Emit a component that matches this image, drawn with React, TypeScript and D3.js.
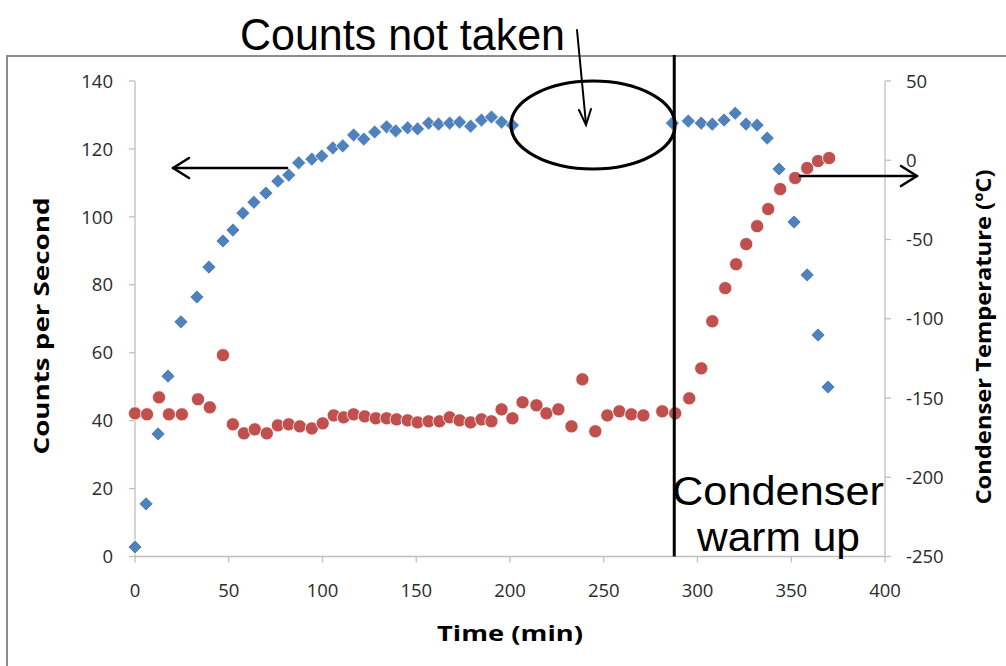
import React from "react";
import * as d3 from "d3";

// ---- data ----
const countTime = [0, 5.9, 12.3, 17.6, 24.5, 33.0, 39.4, 46.9, 52.2, 57.5, 63.4, 69.8, 76.2, 82.0, 87.3, 94.3, 99.6, 105.5, 110.8, 116.6, 122.0, 127.8, 134.2, 139.0, 145.4, 150.7, 156.6, 161.9, 167.8, 173.1, 179.0, 184.8, 190.1, 195.5, 201.3,
  286.6, 295.1, 302.0, 307.9, 314.2, 320.1, 325.9, 331.8, 337.2, 343.5, 351.5, 358.5, 364.3, 369.6];
const counts = [2.8, 15.5, 36.1, 53.1, 69.1, 76.4, 85.2, 92.9, 96.1, 101.1, 104.3, 107.0, 110.5, 112.3, 115.9, 117.0, 117.9, 120.3, 120.9, 124.1, 122.9, 125.0, 126.5, 125.3, 126.2, 125.9, 127.6, 127.3, 127.6, 127.9, 126.7, 128.5, 129.4, 127.9, 127.0,
  127.6, 128.2, 127.6, 127.3, 128.5, 130.5, 127.3, 127.0, 123.2, 114.1, 98.5, 82.9, 65.2, 49.9];

const tempTime = [0, 6.4, 12.8, 18.1, 25.0, 33.6, 39.9, 46.9, 52.2, 58.1, 63.9, 70.3, 76.2, 82.0, 87.9, 94.3, 100.1, 106.0, 111.3, 116.6, 122.5, 128.4, 134.2, 139.5, 145.4, 150.7, 156.6, 162.4, 167.8, 173.1, 179.0, 184.8, 190.1, 195.5, 201.3, 206.7, 214.1, 219.4, 225.8, 232.8, 238.6, 245.5, 251.9, 258.3, 264.7, 271.1, 281.2, 288.1, 295.6, 302.0, 307.9, 314.8, 320.6, 326.0, 331.8, 337.7, 344.1, 352.1, 358.5, 364.3, 370.2];
const temps = [-159.7, -160.3, -149.6, -160.3, -160.3, -150.8, -155.9, -123.0, -166.6, -172.3, -169.8, -172.3, -167.3, -166.6, -167.9, -169.2, -166.0, -161.0, -162.2, -160.3, -161.6, -162.8, -162.8, -163.5, -164.1, -165.4, -164.7, -164.7, -162.2, -164.1, -165.4, -163.5, -164.7, -157.2, -162.8, -152.7, -154.6, -159.7, -157.2, -167.9, -138.2, -171.0, -161.0, -158.4, -160.3, -161.0, -158.4, -159.7, -150.2, -131.3, -101.6, -80.7, -65.6, -52.9, -41.6, -30.8, -18.2, -11.2, -4.9, -0.5, 1.4];

const xTicks = [0, 50, 100, 150, 200, 250, 300, 350, 400];
const leftTicks = [0, 20, 40, 60, 80, 100, 120, 140];
const rightTicks = [-250, -200, -150, -100, -50, 0, 50];
const warmUpTime = 287.6;

const W = 1006;
const H = 666;

export default function App() {
  const x = d3.scaleLinear().domain([0, 400]).range([135, 885]);
  const yL = d3.scaleLinear().domain([0, 140]).range([556.5, 81]);
  const yR = d3.scaleLinear().domain([-250, 50]).range([556.5, 81]);

  const diamond = d3.symbol(d3.symbolSquare, 100)() as string;
  const axisColor = "#bfbfbf";
  const tickFont = "'Open Sans', 'Liberation Sans', sans-serif";
  const annFont = "'Liberation Sans Narrow', 'Liberation Sans', Arial, sans-serif";

  const vx = x(warmUpTime);

  return (
    <svg width={W} height={H} viewBox={`0 0 ${W} ${H}`}
      style={{ position: "absolute", left: 0, top: 0, background: "#fff" }}>
      <rect x={0} y={0} width={W} height={H} fill="#fff" />
      {/* frame */}
      <path d={`M7,${H} L7,56 L${W},56`} fill="none" stroke="#8c8c8c" strokeWidth={2} />

      {/* axes */}
      <line x1={x(0)} x2={x(400)} y1={yL(0)} y2={yL(0)} stroke={axisColor} strokeWidth={1.3} />
      <line x1={x(0)} x2={x(0)} y1={yL(0)} y2={yL(140)} stroke={axisColor} strokeWidth={1.3} />
      <line x1={x(400)} x2={x(400)} y1={yR(-250)} y2={yR(50)} stroke={axisColor} strokeWidth={1.3} />

      {xTicks.map((t) => (
        <g key={"xt" + t}>
          <line x1={x(t)} x2={x(t)} y1={yL(0)} y2={yL(0) + 6} stroke={axisColor} strokeWidth={1.3} />
          <text x={x(t)} y={597} textAnchor="middle" fontFamily={tickFont} fontSize={18.5} fill="#2b2b2b">{t}</text>
        </g>
      ))}
      {leftTicks.map((t) => (
        <g key={"lt" + t}>
          <line x1={x(0) - 6} x2={x(0)} y1={yL(t)} y2={yL(t)} stroke={axisColor} strokeWidth={1.3} />
          <text x={113} y={yL(t)} dy="0.36em" textAnchor="end" fontFamily={tickFont} fontSize={18.5} fill="#2b2b2b">{t}</text>
        </g>
      ))}
      {rightTicks.map((t) => (
        <g key={"rt" + t}>
          <line x1={x(400)} x2={x(400) + 6} y1={yR(t)} y2={yR(t)} stroke={axisColor} strokeWidth={1.3} />
          <text x={906} y={yR(t)} dy="0.36em" textAnchor="start" fontFamily={tickFont} fontSize={18.5} fill="#2b2b2b">{t}</text>
        </g>
      ))}

      {/* axis titles */}
      <text x={510} y={641} textAnchor="middle" fontFamily={tickFont} fontWeight="bold" fontSize={21}
        textLength={146} lengthAdjust="spacingAndGlyphs" fill="#000">Time (min)</text>
      <text transform={`translate(49,326) rotate(-90)`} textAnchor="middle" fontFamily={tickFont} fontWeight="bold" fontSize={21}
        textLength={257} lengthAdjust="spacingAndGlyphs" fill="#000">Counts per Second</text>
      <text transform={`translate(991,337) rotate(-90)`} textAnchor="middle" fontFamily={tickFont} fontWeight="bold" fontSize={21}
        textLength={335} lengthAdjust="spacingAndGlyphs" fill="#000">Condenser Temperature (ºC)</text>

      {/* counts series (diamonds) */}
      {countTime.map((t, i) => (
        <path key={"c" + i} d={diamond} transform={`translate(${x(t)},${yL(counts[i])}) rotate(45)`}
          fill="#4F81BD" stroke="#ffffff" strokeWidth={0.8} />
      ))}
      {/* temperature series (circles) */}
      {tempTime.map((t, i) => (
        <circle key={"r" + i} cx={x(t)} cy={yR(temps[i])} r={6.6} fill="#C0504D" stroke="#ffffff" strokeWidth={0.8} />
      ))}

      {/* annotations */}
      <line x1={vx} x2={vx} y1={55} y2={yL(0)} stroke="#000" strokeWidth={3} />
      <ellipse cx={593} cy={125} rx={82} ry={44} fill="none" stroke="#000" strokeWidth={3.2} />
      <text x={240} y={50} fontFamily={annFont} fontSize={45} textLength={325} lengthAdjust="spacingAndGlyphs" fill="#000">Counts not taken</text>
      <g stroke="#000" strokeWidth={2} fill="none" strokeLinecap="round">
        <line x1={577} y1={30} x2={586} y2={124} />
        <path d="M579,110 L586,125 L591,109" />
      </g>
      <g stroke="#000" strokeWidth={2.6} fill="none" strokeLinecap="round" strokeLinejoin="round">
        <line x1={287} y1={168} x2={173} y2={168} />
        <path d="M189,158 L173,168 L189,178" />
        <line x1={800} y1={176} x2={917} y2={176} />
        <path d="M901,166 L917,176 L901,186" />
      </g>
      <text x={672} y={505} fontFamily={annFont} fontSize={41} textLength={212} lengthAdjust="spacingAndGlyphs" fill="#000">Condenser</text>
      <text x={697} y={551} fontFamily={annFont} fontSize={41} textLength={163} lengthAdjust="spacingAndGlyphs" fill="#000">warm up</text>
    </svg>
  );
}
